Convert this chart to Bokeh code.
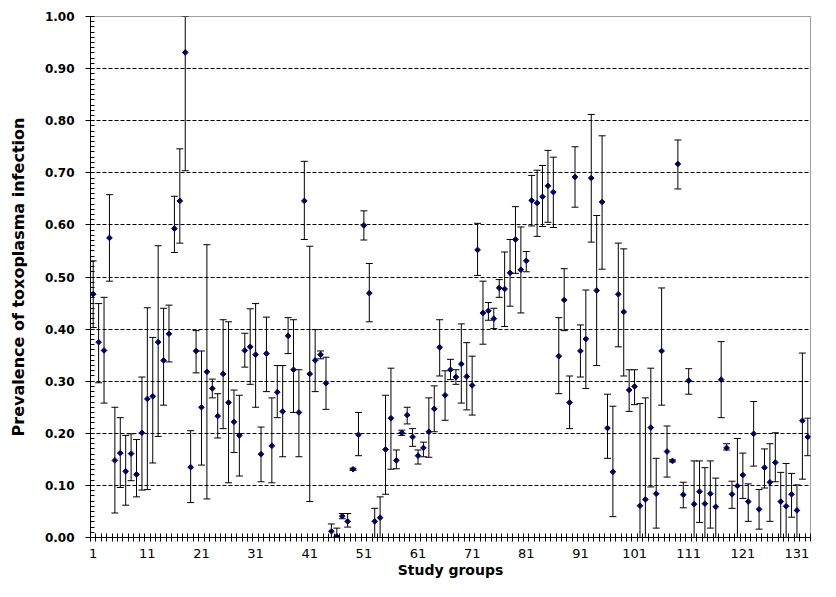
from bokeh.plotting import figure
from bokeh.models import ColumnDataSource, Whisker, TeeHead, FixedTicker, NumeralTickFormatter, Range1d
from bokeh.embed import file_html
from bokeh.resources import INLINE

groups = list(range(1, 134))

prevalence = [
    0.467, 0.375, 0.359, 0.575, 0.148, 0.162, 0.127, 0.161, 0.121, 0.201,
    0.266, 0.271, 0.375, 0.340, 0.391, 0.593, 0.646, 0.931, 0.135, 0.358,
    0.250, 0.318, 0.286, 0.233, 0.314, 0.259, 0.222, 0.196, 0.359, 0.366,
    0.351, 0.160, 0.353, 0.176, 0.279, 0.242, 0.387, 0.322, 0.240, 0.646,
    0.314, 0.340, 0.351, 0.296, 0.012, 0.002, 0.041, 0.031, 0.131, 0.197,
    0.599, 0.469, 0.031, 0.038, 0.169, 0.229, 0.148, 0.201, 0.235, 0.193,
    0.157, 0.172, 0.203, 0.247, 0.365, 0.273, 0.322, 0.308, 0.333, 0.309,
    0.292, 0.552, 0.431, 0.435, 0.420, 0.479, 0.477, 0.508, 0.572, 0.514,
    0.531, 0.647, 0.642, 0.654, 0.675, 0.663, 0.348, 0.456, 0.259, 0.692,
    0.358, 0.381, 0.690, 0.474, 0.644, 0.210, 0.126, 0.467, 0.433, 0.283,
    0.290, 0.061, 0.073, 0.211, 0.084, 0.358, 0.165, 0.147, 0.717, 0.082,
    0.301, 0.064, 0.088, 0.065, 0.084, 0.059, 0.303, 0.172, 0.083, 0.099,
    0.120, 0.069, 0.199, 0.054, 0.134, 0.106, 0.144, 0.069, 0.060, 0.083,
    0.052, 0.224, 0.193,
]

upper_ci = [
    0.531, 0.449, 0.461, 0.658, 0.250, 0.230, 0.196, 0.199, 0.188, 0.308,
    0.441, 0.384, 0.560, 0.440, 0.446, 0.655, 0.746, 1.000, 0.205, 0.397,
    0.358, 0.562, 0.304, 0.276, 0.418, 0.414, 0.283, 0.273, 0.392, 0.439,
    0.449, 0.212, 0.423, 0.268, 0.330, 0.330, 0.422, 0.418, 0.322, 0.722,
    0.559, 0.399, 0.358, 0.346, 0.026, 0.018, 0.046, 0.046, 0.133, 0.240,
    0.627, 0.526, 0.056, 0.078, 0.273, 0.325, 0.168, 0.206, 0.250, 0.209,
    0.168, 0.183, 0.268, 0.291, 0.418, 0.320, 0.342, 0.322, 0.410, 0.374,
    0.348, 0.603, 0.492, 0.451, 0.440, 0.495, 0.548, 0.572, 0.635, 0.596,
    0.549, 0.695, 0.705, 0.714, 0.743, 0.730, 0.422, 0.516, 0.310, 0.750,
    0.408, 0.475, 0.812, 0.618, 0.771, 0.275, 0.252, 0.565, 0.554, 0.322,
    0.322, 0.257, 0.268, 0.325, 0.152, 0.479, 0.214, 0.149, 0.763, 0.106,
    0.324, 0.147, 0.147, 0.134, 0.147, 0.114, 0.376, 0.180, 0.108, 0.190,
    0.162, 0.103, 0.261, 0.092, 0.170, 0.180, 0.201, 0.125, 0.142, 0.123,
    0.101, 0.354, 0.229,
]

lower_ci = [
    0.403, 0.297, 0.258, 0.492, 0.047, 0.096, 0.062, 0.109, 0.078, 0.091,
    0.092, 0.143, 0.194, 0.254, 0.337, 0.547, 0.565, 0.704, 0.067, 0.316,
    0.139, 0.074, 0.268, 0.191, 0.209, 0.105, 0.163, 0.118, 0.327, 0.294,
    0.250, 0.107, 0.280, 0.105, 0.230, 0.155, 0.353, 0.240, 0.155, 0.572,
    0.069, 0.280, 0.343, 0.246, 0.000, 0.000, 0.036, 0.020, 0.129, 0.157,
    0.571, 0.414, 0.000, 0.000, 0.083, 0.131, 0.132, 0.196, 0.218, 0.175,
    0.141, 0.155, 0.154, 0.203, 0.310, 0.225, 0.303, 0.294, 0.258, 0.245,
    0.235, 0.503, 0.371, 0.417, 0.401, 0.461, 0.405, 0.444, 0.507, 0.431,
    0.510, 0.598, 0.578, 0.597, 0.605, 0.595, 0.276, 0.397, 0.209, 0.634,
    0.308, 0.286, 0.567, 0.330, 0.515, 0.152, 0.040, 0.366, 0.310, 0.242,
    0.255, 0.000, 0.000, 0.097, 0.018, 0.254, 0.116, 0.145, 0.669, 0.057,
    0.275, 0.000, 0.029, 0.000, 0.018, 0.000, 0.230, 0.168, 0.056, 0.000,
    0.075, 0.031, 0.137, 0.016, 0.095, 0.031, 0.107, 0.000, 0.000, 0.039,
    0.000, 0.112, 0.157,
]

x_tick_labels = list(range(1, 132, 10))
y_ticks = [i / 10 for i in range(11)]

src = ColumnDataSource(data=dict(x=groups, y=prevalence, upper=upper_ci, lower=lower_ci))

p = figure(width=820, height=581, output_backend="svg", toolbar_location=None,
           x_range=Range1d(0.5, 133.5), y_range=Range1d(0, 1))
p.min_border_left = 90
p.min_border_right = 10
p.min_border_top = 16
p.min_border_bottom = 44
p.outline_line_color = "#a0a0a0"
p.background_fill_color = "white"
p.border_fill_color = "white"

FONT = "DejaVu Sans"

# x axis
xa = p.xaxis[0]
xa.ticker = FixedTicker(ticks=x_tick_labels, minor_ticks=[g - 0.5 for g in groups] + [groups[-1] + 0.5])
xa.major_tick_in = 0
xa.major_tick_out = 0
xa.minor_tick_in = 4
xa.minor_tick_out = 4
xa.minor_tick_line_color = "black"
xa.axis_line_color = "black"
xa.major_label_text_font = FONT
xa.major_label_text_font_size = "13px"
xa.major_label_text_color = "black"
xa.major_label_standoff = 7
xa.axis_label = "Study groups"
xa.axis_label_text_font = FONT
xa.axis_label_text_font_style = "bold"
xa.axis_label_text_font_size = "14px"
xa.axis_label_text_color = "black"
xa.axis_label_standoff = 1

# y axis
ya = p.yaxis[0]
minor_y = [i / 100 for i in range(101)]
ya.ticker = FixedTicker(ticks=y_ticks, minor_ticks=minor_y)
ya.formatter = NumeralTickFormatter(format="0.00")
ya.major_tick_in = 0
ya.major_tick_out = 5
ya.minor_tick_in = 4
ya.minor_tick_out = 0
ya.minor_tick_line_color = "black"
ya.axis_line_color = "black"
ya.major_label_text_font = FONT
ya.major_label_text_font_style = "bold"
ya.major_label_text_font_size = "12px"
ya.major_label_text_color = "black"
ya.major_label_standoff = 11
ya.axis_label = "Prevalence of toxoplasma infection"
ya.axis_label_text_font = FONT
ya.axis_label_text_font_style = "bold"
ya.axis_label_text_font_size = "16px"
ya.axis_label_text_color = "black"
ya.axis_label_standoff = 14

p.xgrid.visible = False
p.ygrid.grid_line_color = "black"
p.ygrid.grid_line_dash = "4 2"
p.ygrid.grid_line_width = 1

w = Whisker(source=src, base="x", upper="upper", lower="lower",
            line_color="black", line_width=1,
            upper_head=TeeHead(size=7, line_color="black", line_width=1),
            lower_head=TeeHead(size=7, line_color="black", line_width=1))
p.add_layout(w)

p.scatter("x", "y", source=src, marker="square", angle=0.785, size=4,
          fill_color="#000066", line_color="#000066")

open("out.html", "w").write(file_html(p, INLINE))
